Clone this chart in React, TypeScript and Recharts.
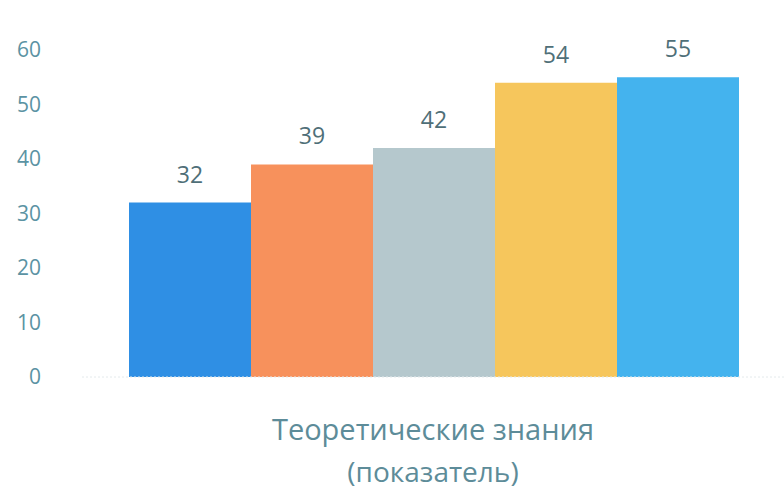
import { BarChart, Bar, XAxis, YAxis, LabelList } from 'recharts';

const categories = ['Теоретические знания'];
const subtitle = '(показатель)';
const seriesKeys = ['s1', 's2', 's3', 's4', 's5'];
const seriesValues = [32, 39, 42, 54, 55];
const yTicks = [0, 10, 20, 30, 40, 50, 60];

const COLORS = ['#2f8fe4', '#f7915c', '#b5c8cd', '#f6c65c', '#44b3ee'];

const data = categories.map((name) => {
  const row: Record<string, string | number> = { name };
  seriesKeys.forEach((k, i) => {
    row[k] = seriesValues[i];
  });
  return row;
});

const FONT = '"Open Sans", sans-serif';

function CategoryTick(props: any) {
  const { x, y, payload } = props;
  return (
    <g>
      <text x={x} y={y} dy={55} textAnchor="middle" fill="#5d8c99" fontSize={29} fontFamily={FONT}>
        {payload.value}
      </text>
      <text x={x} y={y} dy={97} textAnchor="middle" fill="#5d8c99" fontSize={28} fontFamily={FONT}>
        {subtitle}
      </text>
    </g>
  );
}

export default function App() {
  return (
    <div style={{ position: 'absolute', left: 0, top: 0, width: 784, height: 500, background: '#fff' }}>
      <BarChart
        width={784}
        height={500}
        data={data}
        margin={{ top: 50, right: 0, bottom: 0, left: 0 }}
        barCategoryGap={47}
        barGap={0}
      >
        <XAxis
          dataKey="name"
          height={123}
          tickLine={false}
          axisLine={{ stroke: '#e4eaec', strokeDasharray: '2 2' }}
          tick={<CategoryTick />}
        />
        <YAxis
          width={82}
          domain={[0, 60]}
          ticks={yTicks}
          axisLine={false}
          tickLine={false}
          tickMargin={35}
          tick={{ fill: '#5b93a3', fontSize: 21, fontFamily: FONT }}
        />
        {seriesKeys.map((k, i) => (
          <Bar key={k} dataKey={k} fill={COLORS[i]} isAnimationActive={false}>
            <LabelList
              dataKey={k}
              position="top"
              offset={20}
              fill="#4f6f78"
              fontSize={23}
              fontFamily={FONT}
            />
          </Bar>
        ))}
      </BarChart>
    </div>
  );
}
